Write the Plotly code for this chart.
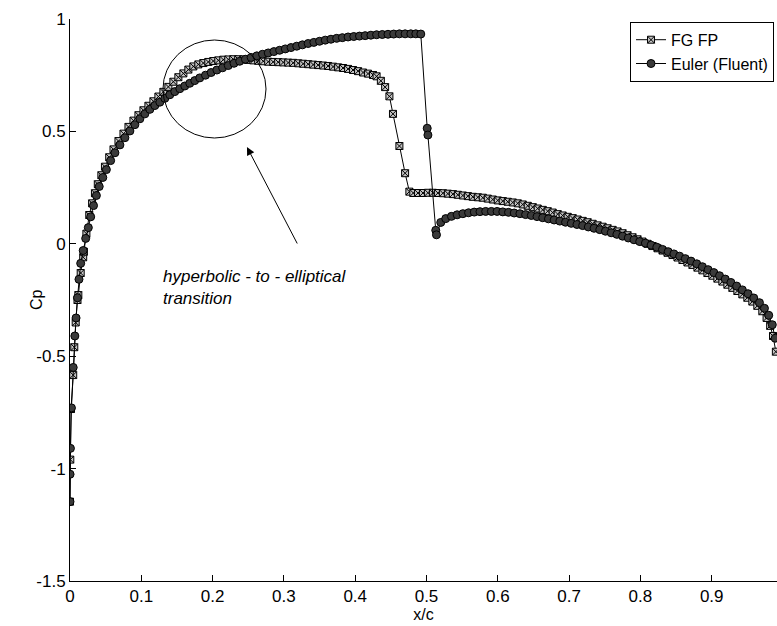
import plotly.graph_objects as go

# Surface pressure distribution: full-potential (FG FP) vs Euler (Fluent)
fgfp_x = [
    0.0000, 0.0004, 0.0014, 0.0045, 0.0060, 0.0080, 0.0105, 0.0117, 0.0150, 0.0185,
    0.0195, 0.0230, 0.0270, 0.0310, 0.0350, 0.0390, 0.0440, 0.0490, 0.0550, 0.0610,
    0.0680, 0.0750, 0.0820, 0.0890, 0.0960, 0.1030, 0.1100, 0.1170, 0.1240, 0.1310,
    0.1380, 0.1450, 0.1520, 0.1590, 0.1660, 0.1730, 0.1800, 0.1870, 0.1940, 0.2010,
    0.2080, 0.2150, 0.2220, 0.2290, 0.2360, 0.2430, 0.2500, 0.2570, 0.2640, 0.2710,
    0.2780, 0.2850, 0.2920, 0.2990, 0.3060, 0.3130, 0.3200, 0.3270, 0.3340, 0.3410,
    0.3480, 0.3550, 0.3620, 0.3690, 0.3760, 0.3830, 0.3900, 0.3970, 0.4040, 0.4110,
    0.4180, 0.4250, 0.4300, 0.4360, 0.4420, 0.4480, 0.4530, 0.4620, 0.4700, 0.4760,
    0.4815, 0.4880, 0.4950, 0.5020, 0.5090, 0.5160, 0.5230, 0.5300, 0.5370, 0.5440,
    0.5510, 0.5580, 0.5650, 0.5720, 0.5790, 0.5860, 0.5930, 0.6000, 0.6070, 0.6140,
    0.6210, 0.6280, 0.6350, 0.6420, 0.6490, 0.6560, 0.6630, 0.6700, 0.6770, 0.6840,
    0.6910, 0.6980, 0.7050, 0.7120, 0.7190, 0.7260, 0.7330, 0.7400, 0.7470, 0.7540,
    0.7610, 0.7680, 0.7750, 0.7820, 0.7890, 0.7960, 0.8030, 0.8100, 0.8170, 0.8240,
    0.8310, 0.8380, 0.8450, 0.8520, 0.8590, 0.8660, 0.8730, 0.8800, 0.8870, 0.8940,
    0.9010, 0.9080, 0.9150, 0.9220, 0.9290, 0.9360, 0.9430, 0.9500, 0.9570, 0.9640,
    0.9710, 0.9770, 0.9820, 0.9860, 0.9900,
]
fgfp_cp = [
    -1.147, -0.960, -0.735, -0.584, -0.460, -0.350, -0.250, -0.228, -0.130, -0.060,
    -0.035, 0.045, 0.128, 0.180, 0.225, 0.265, 0.305, 0.343, 0.385, 0.420,
    0.457, 0.490, 0.520, 0.548, 0.572, 0.594, 0.614, 0.634, 0.655, 0.676,
    0.698, 0.721, 0.741, 0.758, 0.775, 0.789, 0.798, 0.804, 0.809, 0.813,
    0.816, 0.819, 0.820, 0.821, 0.821, 0.820, 0.818, 0.816, 0.814, 0.812,
    0.810, 0.809, 0.808, 0.807, 0.806, 0.805, 0.803, 0.801, 0.799, 0.797,
    0.795, 0.793, 0.791, 0.788, 0.785, 0.782, 0.778, 0.773, 0.768, 0.762,
    0.757, 0.751, 0.745, 0.725, 0.697, 0.656, 0.578, 0.435, 0.314, 0.232,
    0.226, 0.226, 0.226, 0.227, 0.227, 0.226, 0.225, 0.223, 0.221, 0.218,
    0.215, 0.212, 0.209, 0.207, 0.205, 0.201, 0.197, 0.193, 0.190, 0.187,
    0.184, 0.180, 0.175, 0.169, 0.163, 0.157, 0.151, 0.145, 0.139, 0.132,
    0.126, 0.120, 0.114, 0.108, 0.102, 0.096, 0.089, 0.082, 0.076, 0.069,
    0.062, 0.055, 0.047, 0.038, 0.029, 0.020, 0.010, 0.000, -0.010, -0.020,
    -0.030, -0.040, -0.050, -0.061, -0.072, -0.083, -0.094, -0.106, -0.118, -0.130,
    -0.142, -0.155, -0.168, -0.182, -0.196, -0.210, -0.225, -0.240, -0.257, -0.276,
    -0.300, -0.330, -0.365, -0.410, -0.480,
]

euler_x = [
    0.0000, 0.0001, 0.0006, 0.0020, 0.0045, 0.0068, 0.0085, 0.0105, 0.0126, 0.0150,
    0.0185, 0.0220, 0.0257, 0.0290, 0.0330, 0.0370, 0.0410, 0.0460, 0.0510, 0.0570,
    0.0630, 0.0700, 0.0770, 0.0840, 0.0910, 0.0980, 0.1050, 0.1120, 0.1190, 0.1260,
    0.1330, 0.1400, 0.1470, 0.1540, 0.1610, 0.1680, 0.1750, 0.1820, 0.1900, 0.1980,
    0.2060, 0.2140, 0.2220, 0.2300, 0.2380, 0.2460, 0.2540, 0.2620, 0.2700, 0.2780,
    0.2860, 0.2940, 0.3020, 0.3100, 0.3180, 0.3260, 0.3340, 0.3420, 0.3500, 0.3580,
    0.3660, 0.3740, 0.3820, 0.3900, 0.3980, 0.4060, 0.4140, 0.4220, 0.4300, 0.4380,
    0.4460, 0.4540, 0.4620, 0.4700, 0.4780, 0.4850, 0.4920, 0.5010, 0.5020, 0.5130,
    0.5140, 0.5200, 0.5270, 0.5350, 0.5430, 0.5510, 0.5590, 0.5670, 0.5750, 0.5830,
    0.5910, 0.5990, 0.6070, 0.6150, 0.6230, 0.6310, 0.6390, 0.6470, 0.6550, 0.6630,
    0.6710, 0.6790, 0.6870, 0.6950, 0.7030, 0.7110, 0.7190, 0.7270, 0.7350, 0.7430,
    0.7510, 0.7590, 0.7670, 0.7750, 0.7830, 0.7910, 0.7990, 0.8070, 0.8150, 0.8230,
    0.8310, 0.8390, 0.8470, 0.8550, 0.8630, 0.8710, 0.8790, 0.8870, 0.8950, 0.9030,
    0.9110, 0.9190, 0.9270, 0.9350, 0.9430, 0.9510, 0.9590, 0.9670, 0.9740, 0.9800,
    0.9850, 0.9890,
]
euler_cp = [
    -1.147, -1.025, -0.910, -0.730, -0.550, -0.410, -0.330, -0.240, -0.158, -0.087,
    -0.030, 0.024, 0.072, 0.120, 0.170, 0.215, 0.255, 0.295, 0.330, 0.370,
    0.405, 0.440, 0.472, 0.502, 0.530, 0.556, 0.578, 0.598, 0.615, 0.630,
    0.647, 0.663, 0.677, 0.690, 0.702, 0.714, 0.726, 0.738, 0.750, 0.762,
    0.773, 0.783, 0.793, 0.803, 0.812, 0.821, 0.829, 0.836, 0.843, 0.849,
    0.855, 0.861, 0.867, 0.873, 0.879, 0.885, 0.891, 0.896, 0.901, 0.906,
    0.910, 0.914, 0.917, 0.920, 0.922, 0.924, 0.926, 0.928, 0.930, 0.931,
    0.932, 0.933, 0.934, 0.934, 0.934, 0.934, 0.933, 0.514, 0.484, 0.060,
    0.040, 0.095, 0.112, 0.122, 0.129, 0.134, 0.138, 0.141, 0.143, 0.144,
    0.144, 0.144, 0.142, 0.140, 0.137, 0.134, 0.130, 0.126, 0.121, 0.116,
    0.111, 0.106, 0.101, 0.096, 0.091, 0.086, 0.081, 0.075, 0.069, 0.063,
    0.056, 0.049, 0.042, 0.034, 0.026, 0.018, 0.010, 0.003, -0.006, -0.015,
    -0.025, -0.035, -0.045, -0.055, -0.066, -0.077, -0.089, -0.102, -0.115, -0.128,
    -0.142, -0.157, -0.172, -0.188, -0.205, -0.222, -0.241, -0.262, -0.287, -0.318,
    -0.360, -0.420,
]

x_ticks = [0, 0.1, 0.2, 0.3, 0.4, 0.5, 0.6, 0.7, 0.8, 0.9]
x_labels = ["0", "0.1", "0.2", "0.3", "0.4", "0.5", "0.6", "0.7", "0.8", "0.9"]
y_ticks = [-1.5, -1, -0.5, 0, 0.5, 1]
y_labels = ["-1.5", "-1", "-0.5", "0", "0.5", "1"]

FONT = "Liberation Sans, Arial, sans-serif"

fig = go.Figure()
fig.add_trace(go.Scatter(
    x=fgfp_x, y=fgfp_cp, name="FG FP", mode="lines+markers",
    line=dict(color="black", width=1),
    marker=dict(symbol="square-x", size=7, color="#c4c4c4",
                line=dict(color="black", width=1)),
))
fig.add_trace(go.Scatter(
    x=euler_x, y=euler_cp, name="Euler (Fluent)", mode="lines+markers",
    line=dict(color="black", width=1),
    marker=dict(symbol="circle", size=8, color="#3a3a3a",
                line=dict(color="black", width=1)),
))

# circle marking the transition region
fig.add_shape(type="circle", xref="x", yref="y",
              x0=0.1304, x1=0.2749, y0=0.4706, y1=0.9066,
              line=dict(color="black", width=1))

# arrow pointing at the circled region
fig.add_annotation(x=0.2482, y=0.4306, ax=0.3198, ay=-0.0053,
                   xref="x", yref="y", axref="x", ayref="y",
                   text="", showarrow=True, arrowhead=2, arrowsize=1.6,
                   arrowwidth=1, arrowcolor="black")

fig.add_annotation(x=0.1276, y=-0.1935, xref="x", yref="y",
                   xanchor="left", yanchor="middle", align="left",
                   text="<i>hyperbolic - to - elliptical<br>transition</i>",
                   showarrow=False, font=dict(family=FONT, size=17, color="black"))

# rotated y-axis title
fig.add_annotation(x=-0.048, y=0.5, xref="paper", yref="paper",
                   xanchor="center", yanchor="middle",
                   text="Cp", textangle=-90, showarrow=False,
                   font=dict(family=FONT, size=16, color="black"))

axis_common = dict(showline=True, linecolor="black", linewidth=1, mirror=False,
                   ticks="inside", ticklen=6, tickcolor="black", tickwidth=1,
                   showgrid=False, zeroline=False,
                   tickfont=dict(family=FONT, size=17, color="black"))

fig.update_xaxes(range=[0, 0.9916], tickvals=x_ticks, ticktext=x_labels,
                 title=dict(text="x/c", standoff=2,
                            font=dict(family=FONT, size=16, color="black")),
                 **axis_common)
fig.update_yaxes(range=[-1.5, 1], tickvals=y_ticks, ticktext=y_labels,
                 **axis_common)

fig.update_layout(
    width=777, height=626,
    margin=dict(l=70, r=0, t=19, b=45),
    paper_bgcolor="white", plot_bgcolor="white",
    font=dict(family=FONT, size=16, color="black"),
    showlegend=True,
    legend=dict(x=0.9958, y=0.995, xanchor="right", yanchor="top",
                bgcolor="white", bordercolor="black", borderwidth=1,
                itemwidth=30, tracegroupgap=0,
                font=dict(family=FONT, size=16, color="black")),
)

fig.write_html("out.html")
